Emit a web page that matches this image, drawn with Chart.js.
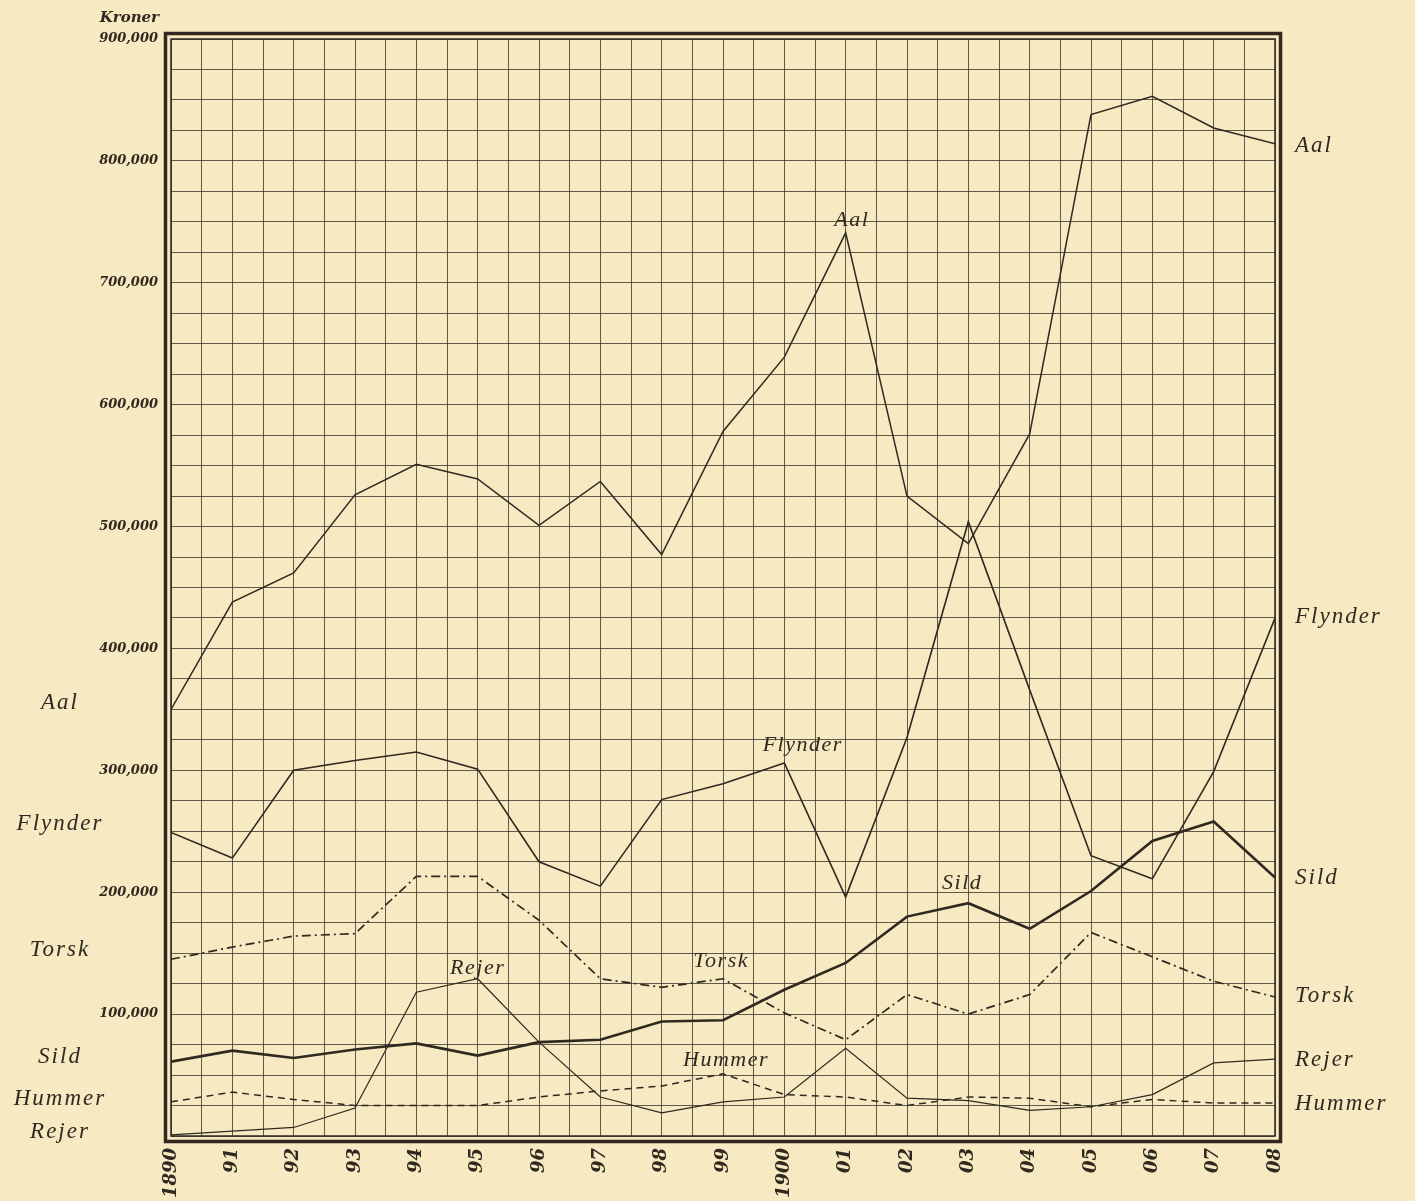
<!DOCTYPE html>
<html>
<head>
<meta charset="utf-8">
<script src="https://cdn.jsdelivr.net/npm/chart.js@4/dist/chart.umd.min.js"></script>
<style>
  html, body { margin: 0; padding: 0; background: #f7e9c2; }
  #wrap { position: relative; width: 1415px; height: 1201px; }
</style>
</head>
<body>
<div id="wrap"><canvas id="chart" width="1415" height="1201"></canvas></div>
<script>
// Kroner per year, 1890-1908
const years = [1890, 1891, 1892, 1893, 1894, 1895, 1896, 1897, 1898, 1899, 1900, 1901, 1902, 1903, 1904, 1905, 1906, 1907, 1908];
const aal     = [350000, 438000, 462000, 526000, 551000, 539000, 501000, 537000, 477000, 578000, 639000, 741000, 525000, 486000, 576000, 838000, 853000, 827000, 814000];
const flynder = [249000, 228000, 300000, 308000, 315000, 301000, 225000, 205000, 276000, 289000, 306000, 196000, 327000, 504000, 366000, 230000, 211000, 299000, 425000];
const sild    = [61000, 70000, 64000, 71000, 76000, 66000, 77000, 79000, 94000, 95000, 120000, 142000, 180000, 191000, 170000, 201000, 242000, 258000, 212000];
const torsk   = [145000, 155000, 164000, 166000, 213000, 213000, 177000, 129000, 122000, 129000, 101000, 79000, 116000, 100000, 116000, 167000, 147000, 127000, 114000];
const rejer   = [1000, 4000, 7000, 23000, 118000, 129000, 77000, 32000, 19000, 28000, 32000, 72000, 31000, 29000, 21000, 24000, 34000, 60000, 63000];
const hummer  = [28000, 36000, 30000, 25000, 25000, 25000, 32000, 37000, 41000, 51000, 34000, 32000, 25000, 32000, 31000, 24000, 30000, 27000, 27000];

const yearLabels = ["1890", "91", "92", "93", "94", "95", "96", "97", "98", "99", "1900", "01", "02", "03", "04", "05", "06", "07", "08"];

// names written beside the chart: [text, value]
const leftNames  = [["Aal", 355000], ["Flynder", 256000], ["Torsk", 153000], ["Sild", 65000], ["Hummer", 30000], ["Rejer", 3000]];
const rightNames = [["Aal", 812000], ["Flynder", 426000], ["Sild", 212000], ["Torsk", 115000], ["Rejer", 62000], ["Hummer", 26000]];
// names written inside the grid: [text, year, value]
const innerNames = [["Aal", 1901.1, 752000], ["Flynder", 1900.3, 322000], ["Sild", 1902.9, 208000],
                    ["Torsk", 1898.97, 144000], ["Rejer", 1895.0, 139000], ["Hummer", 1899.05, 63000]];

const INK = "#2f2920";
const pts = (vals) => vals.map((v, i) => ({ x: years[i], y: v }));

const decor = {
  id: "decor",
  afterDraw(chart) {
    const { ctx, chartArea: a, scales: { x, y } } = chart;
    ctx.save();
    // double frame
    ctx.strokeStyle = INK;
    ctx.lineWidth = 1.5;
    ctx.strokeRect(a.left, a.top, a.right - a.left, a.bottom - a.top);
    ctx.lineWidth = 3.5;
    ctx.strokeRect(a.left - 5.5, a.top - 5.5, a.right - a.left + 11, a.bottom - a.top + 11);

    ctx.fillStyle = INK;
    ctx.textBaseline = "middle";
    ctx.font = "italic bold 15px 'DejaVu Serif'";
    ctx.textAlign = "right";
    ctx.fillText("Kroner", a.left - 12, 18);

    ctx.font = "italic 23px 'Liberation Serif'";
    ctx.letterSpacing = "2px";
    ctx.textAlign = "center";
    for (const [t, v] of leftNames) ctx.fillText(t, 60, y.getPixelForValue(v));
    ctx.textAlign = "left";
    for (const [t, v] of rightNames) ctx.fillText(t, a.right + 20, y.getPixelForValue(v));
    ctx.textAlign = "center";
    ctx.textBaseline = "alphabetic";
    ctx.font = "italic 22px 'Liberation Serif'";
    ctx.letterSpacing = "1.5px";
    for (const [t, yr, v] of innerNames) ctx.fillText(t, x.getPixelForValue(yr), y.getPixelForValue(v) + 7);
    ctx.restore();
  }
};

const line = (label, data, width, dash) => ({
  label, data: pts(data), borderColor: INK, borderWidth: width, borderDash: dash || [],
  pointRadius: 0, tension: 0, fill: false
});

new Chart(document.getElementById("chart"), {
  type: "line",
  data: {
    datasets: [
      line("Aal", aal, 1.5),
      line("Flynder", flynder, 1.6),
      line("Sild", sild, 2.6),
      line("Torsk", torsk, 1.7, [9, 4, 2, 4]),
      line("Rejer", rejer, 1.2),
      line("Hummer", hummer, 1.5, [7, 5])
    ]
  },
  options: {
    responsive: false,
    animation: false,
    layout: { padding: { top: 39, right: 140, left: 0, bottom: 0 } },
    plugins: { legend: { display: false }, tooltip: { enabled: false } },
    scales: {
      x: {
        type: "linear", min: 1890, max: 1908,
        border: { display: false },
        afterBuildTicks: (s) => {
          s.ticks = [];
          for (let v = 1890; v <= 1908; v += 0.5) s.ticks.push({ value: v });
        },
        afterFit: (s) => { s.height = 65; s.paddingLeft = 0; s.paddingRight = 0; },
        grid: { color: "rgba(47,41,32,0.75)", lineWidth: 1, drawTicks: false },
        ticks: {
          autoSkip: false, minRotation: 90, maxRotation: 90, padding: 12, color: INK,
          font: { family: "'DejaVu Serif'", style: "italic", weight: "bold", size: 18 },
          callback: (v) => Number.isInteger(v) ? yearLabels[v - 1890] : ""
        }
      },
      y: {
        min: 0, max: 900000,
        border: { display: false },
        afterBuildTicks: (s) => {
          s.ticks = [];
          for (let v = 0; v <= 900000; v += 25000) s.ticks.push({ value: v });
        },
        afterFit: (s) => { s.width = 171; },
        grid: { color: "rgba(47,41,32,0.75)", lineWidth: 1, drawTicks: false },
        ticks: {
          autoSkip: false, padding: 13, color: INK,
          font: { family: "'DejaVu Serif'", style: "italic", weight: "bold", size: 13 },
          callback: (v) => (v > 0 && v % 100000 === 0) ? v.toLocaleString("en-US") : ""
        }
      }
    }
  },
  plugins: [decor]
});
</script>
</body>
</html>
